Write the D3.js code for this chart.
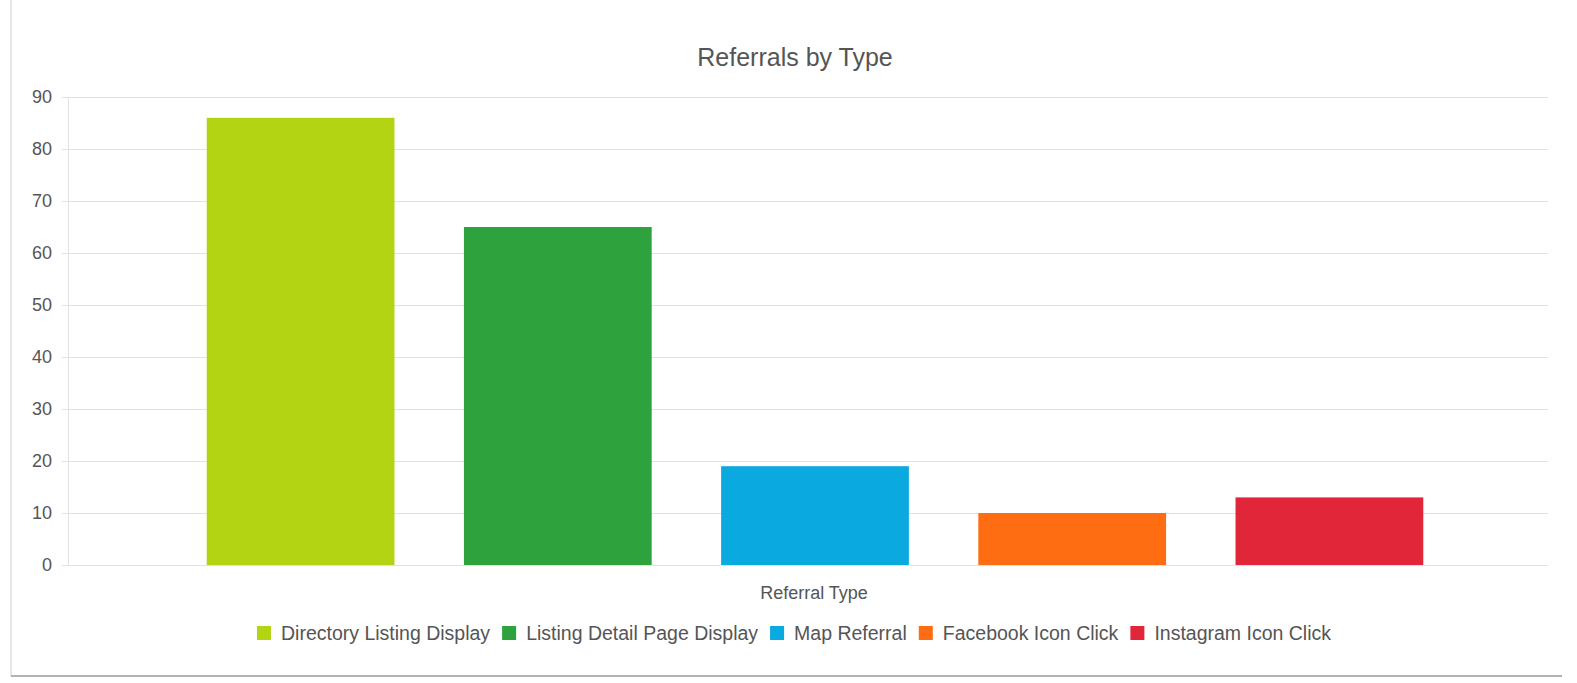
<!DOCTYPE html>
<html>
<head>
<meta charset="utf-8">
<script src="https://cdn.jsdelivr.net/npm/d3@7"></script>
<style>
  body { margin: 0; background: #fff; }
  svg { display: block; font-family: "Liberation Sans", Arial, sans-serif; }
</style>
</head>
<body>
<div class="referral-graph"></div>
<script>
// chart values
var categories = ["Directory Listing Display", "Listing Detail Page Display", "Map Referral", "Facebook Icon Click", "Instagram Icon Click"];
var values = [86, 65, 19, 10, 13];
var colors = ["#b3d412", "#2ea23d", "#0aa9df", "#ff6d12", "#e2263a"];
var yTicks = [0, 10, 20, 30, 40, 50, 60, 70, 80, 90];

// set the dimensions and margins of the graph
var margin = {top: 97, right: 29, bottom: 118, left: 68},
    width = 1577 - margin.left - margin.right,
    height = 683 - margin.top - margin.bottom;

var root = d3.select(".referral-graph").append("svg")
    .attr("width", 1577)
    .attr("height", 683);

// page border from the printout
root.append("line")
    .attr("x1", 11).attr("x2", 11).attr("y1", 0).attr("y2", 676)
    .attr("stroke", "#cfcfcf").attr("stroke-width", 1);
root.append("line")
    .attr("x1", 11).attr("x2", 1562).attr("y1", 676).attr("y2", 676)
    .attr("stroke", "#9a9a9a").attr("stroke-width", 1.5);

var svg = root.append("g")
    .attr("transform", "translate(" + margin.left + "," + margin.top + ")");

var data = categories.map(function(c, i) { return {name: c, value: values[i], color: colors[i]}; });

// set x and y scales
var y = d3.scaleLinear()
    .range([height, 0])
    .domain([0, 90]);

var x = d3.scaleBand()
    .range([104, 1390])
    .domain(categories)
    .paddingInner(0.27)
    .paddingOuter(0.135);

// gridlines + y axis
var yAxis = svg.append("g")
    .call(d3.axisLeft(y).tickValues(yTicks).tickSize(6).tickPadding(10).tickSizeOuter(0));
yAxis.select(".domain").attr("stroke", "#e2e2e2");
yAxis.selectAll(".tick line").attr("stroke", "#e2e2e2");
yAxis.selectAll(".tick text")
    .attr("fill", "#555")
    .style("font-size", "18px");

svg.append("g")
    .selectAll("line")
    .data(yTicks)
    .enter().append("line")
    .attr("x1", 0)
    .attr("x2", width)
    .attr("y1", function(d) { return y(d) + 0.5; })
    .attr("y2", function(d) { return y(d) + 0.5; })
    .attr("stroke", "#e2e2e2");

// bars
svg.append("g")
    .attr("class", "bar")
    .selectAll("rect")
    .data(data)
    .enter().append("rect")
    .attr("x", function(d) { return x(d.name); })
    .attr("y", function(d) { return y(d.value); })
    .attr("width", x.bandwidth())
    .attr("height", function(d) { return height - y(d.value); })
    .attr("fill", function(d) { return d.color; });

// title
root.append("text")
    .attr("x", 795)
    .attr("y", 66)
    .attr("text-anchor", "middle")
    .attr("fill", "#555")
    .style("font-size", "25px")
    .text("Referrals by Type");

// x axis title
root.append("text")
    .attr("x", 814)
    .attr("y", 599)
    .attr("text-anchor", "middle")
    .attr("fill", "#555")
    .style("font-size", "18px")
    .text("Referral Type");

// legend
var legend = root.append("g").attr("class", "legend");
var items = legend.selectAll("g")
    .data(data)
    .enter().append("g");
items.append("rect")
    .attr("width", 14)
    .attr("height", 14)
    .attr("y", -14)
    .attr("fill", function(d) { return d.color; });
items.append("text")
    .attr("x", 24)
    .attr("fill", "#555")
    .style("font-size", "19.5px")
    .text(function(d) { return d.name; });

var offset = 0;
items.each(function() {
    var w = 24 + d3.select(this).select("text").node().getComputedTextLength();
    d3.select(this).attr("transform", "translate(" + offset + ",0)");
    offset += w + 12;
});
offset -= 12;
legend.attr("transform", "translate(" + (794 - offset / 2) + ",640)");
</script>
</body>
</html>
